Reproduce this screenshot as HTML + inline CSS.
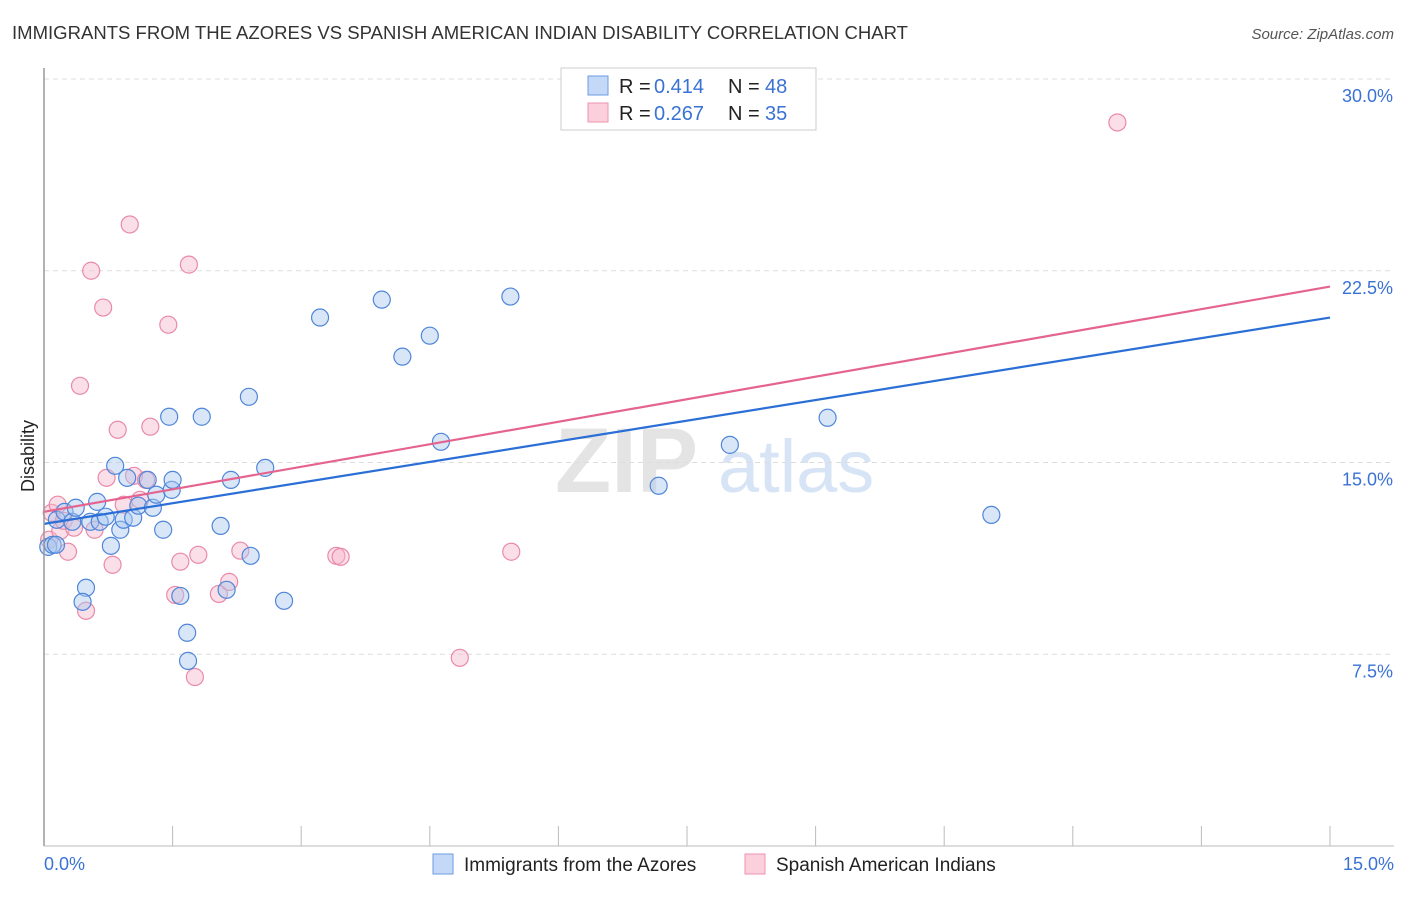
<!DOCTYPE html>
<html><head><meta charset="utf-8"><style>
body{margin:0;background:#fff;font-family:"Liberation Sans",sans-serif;}
svg text{font-family:"Liberation Sans",sans-serif;}
</style></head><body>
<svg id="c" width="1406" height="892">
<text x="12" y="39" font-size="18" fill="#333" textLength="896" lengthAdjust="spacingAndGlyphs">IMMIGRANTS FROM THE AZORES VS SPANISH AMERICAN INDIAN DISABILITY CORRELATION CHART</text>
<text x="1394" y="39" font-size="15" fill="#555" font-style="italic" text-anchor="end">Source: ZipAtlas.com</text>
<text x="555" y="492" font-size="92" fill="#e4e4e4" font-family="Liberation Serif" font-weight="bold">ZIP</text>
<text x="718" y="492" font-size="74" fill="#d6e4f5">atlas</text>
<text x="34" y="456" font-size="18" fill="#222" transform="rotate(-90 34 456)" text-anchor="middle">Disability</text>
<g id="grid"></g><g id="pts"></g><g id="lines"></g>
<line x1="44" y1="68" x2="44" y2="846" stroke="#999" stroke-width="1.5"/>
<line x1="44" y1="846" x2="1394" y2="846" stroke="#bbb"/>
<text x="44" y="870" font-size="18" fill="#3a72d4">0.0%</text>
<text x="1394" y="870" font-size="18" fill="#3a72d4" text-anchor="end">15.0%</text>
<g>
<rect x="561" y="68" width="255" height="62" fill="#fff" stroke="#ccc"/>
<rect x="588" y="76" width="20" height="19" fill="#c4d9f7" stroke="#6d9ae0"/>
<rect x="588" y="103" width="20" height="19" fill="#fbd0dc" stroke="#ee93af"/>
<text x="619" y="93" font-size="20" fill="#222">R = </text><text x="654" y="93" font-size="20" fill="#3a72d4">0.414</text>
<text x="728" y="93" font-size="20" fill="#222">N = </text><text x="765" y="93" font-size="20" fill="#3a72d4">48</text>
<text x="619" y="120" font-size="20" fill="#222">R = </text><text x="654" y="120" font-size="20" fill="#3a72d4">0.267</text>
<text x="728" y="120" font-size="20" fill="#222">N = </text><text x="765" y="120" font-size="20" fill="#3a72d4">35</text>
</g>
<g>
<rect x="433" y="854" width="20" height="20" fill="#c4d9f7" stroke="#6d9ae0"/>
<text x="464" y="871" font-size="19" fill="#222">Immigrants from the Azores</text>
<rect x="745" y="854" width="20" height="20" fill="#fbd0dc" stroke="#ee93af"/>
<text x="776" y="871" font-size="19" fill="#222">Spanish American Indians</text>
</g>
</svg>
<script>
const yTicks=[7.5,15,22.5,30];
const yTickLabels=["7.5%","15.0%","22.5%","30.0%"];
const xTicks=[0,1.5,3,4.5,6,7.5,9,10.5,12,13.5,15];
const blueX=[0.05,0.10,0.15,0.24,0.33,0.37,0.49,0.45,0.54,0.62,0.65,0.72,0.78,0.83,0.89,0.93,0.97,1.04,1.10,1.21,1.27,1.31,1.39,1.46,1.49,1.50,1.59,1.67,1.68,1.84,2.06,2.13,2.18,2.39,2.41,2.58,2.80,3.22,3.94,4.18,4.50,4.63,5.44,7.17,8.00,9.14,11.05,0.14];
const blueY=[11.70,11.78,12.76,13.07,12.68,13.23,10.10,9.55,12.68,13.46,12.68,12.88,11.74,14.87,12.37,12.76,14.40,12.84,13.31,14.32,13.23,13.74,12.37,16.79,13.93,14.32,9.78,8.34,7.24,16.79,12.52,10.02,14.32,17.57,11.35,14.79,9.59,20.67,21.37,19.14,19.96,15.81,21.49,14.09,15.69,16.75,12.95,11.78];
const pinkX=[0.06,0.09,0.16,0.19,0.23,0.28,0.35,0.42,0.49,0.55,0.59,0.69,0.73,0.80,0.86,0.93,1.00,1.05,1.12,1.19,1.24,1.45,1.53,1.59,1.69,1.76,1.80,2.04,2.16,2.29,3.41,3.46,4.85,5.45,12.52];
const pinkY=[11.98,13.03,13.35,12.33,12.72,11.51,12.45,18.00,9.20,22.50,12.37,21.06,14.40,11.00,16.28,13.35,24.31,14.48,13.54,14.32,16.40,20.39,9.82,11.12,22.74,6.61,11.39,9.86,10.33,11.55,11.35,11.31,7.36,11.51,28.30];
const blueTrend=[12.60,20.67];
const pinkTrend=[13.07,21.88];
const NS="http://www.w3.org/2000/svg";
const sx=v=>44+v/15*1286;
const sy=v=>846-v/30*767;
function mk(t,a,p){const e=document.createElementNS(NS,t);for(const k in a)e.setAttribute(k,a[k]);p.appendChild(e);return e;}
const grid=document.getElementById('grid');
yTicks.forEach((t,i)=>{
 const l=mk('line',{x1:44,x2:1394,y1:sy(t),y2:sy(t),stroke:'#ddd','stroke-dasharray':'5,4'},grid);
 
 
 const tx=mk('text',{x:1393,y:sy(t)+23,'font-size':18,fill:'#3a72d4','text-anchor':'end'},grid);
 tx.textContent=yTickLabels[i];
 
 
});
xTicks.forEach(t=>{
 const l=mk('line',{x1:sx(t),x2:sx(t),y1:826,y2:846,stroke:'#bbb'},grid);
 
 
});
const pts=document.getElementById('pts');
function series(X,Y,fill,stroke,name){X.forEach((x,i)=>{
 const c=mk('circle',{cx:sx(x),cy:sy(Y[i]),r:8.5,fill:fill,'fill-opacity':0.45,stroke:stroke,'stroke-width':1.2},pts);
 
 
});}
series(pinkX,pinkY,'#f6b8cb','#e98aa8','pink-point');
series(blueX,blueY,'#a9c7f0','#4f86d9','blue-point');
const lines=document.getElementById('lines');
const bl=mk('line',{x1:sx(0),y1:sy(blueTrend[0]),x2:sx(15),y2:sy(blueTrend[1]),stroke:'#2b6fd6','stroke-width':2.2},lines);


const pl=mk('line',{x1:sx(0),y1:sy(pinkTrend[0]),x2:sx(15),y2:sy(pinkTrend[1]),stroke:'#e5648f','stroke-width':2.2},lines);


</script>
</body></html>
